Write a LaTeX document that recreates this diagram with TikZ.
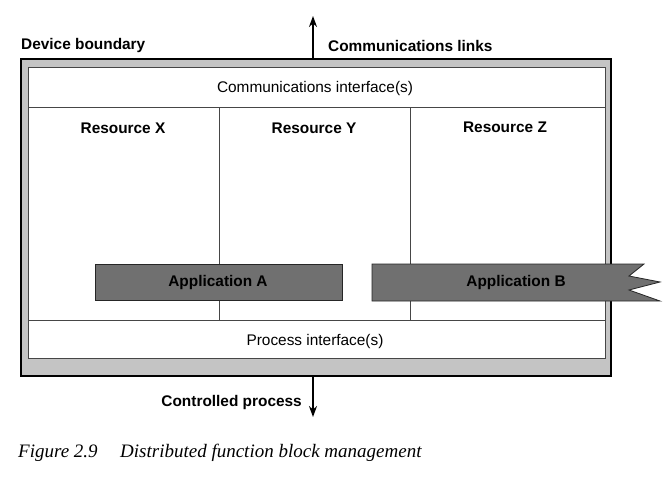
\documentclass[tikz,border=0pt]{standalone}
\usepackage{fontspec}
\setmainfont{Liberation Sans}
\newfontfamily\capfont{Liberation Serif}
\usetikzlibrary{positioning,arrows.meta}
\definecolor{bandgray}{RGB}{196,196,196}
\definecolor{appgray}{RGB}{112,112,112}
\definecolor{linegray}{RGB}{70,70,70}

\begin{document}
\begin{tikzpicture}[x=1pt,y=-1pt,
  boldtxt/.style={font=\bfseries\fontsize{15.4}{18}\selectfont, inner sep=0pt},
  plaintxt/.style={font=\fontsize{15.4}{18}\selectfont, inner sep=0pt},
  captxt/.style={font=\capfont\itshape\fontsize{19}{22}\selectfont, inner sep=0pt},
  appbox/.style={draw=black!85, line width=0.8pt, fill=appgray},
  flow/.style={line width=1.8pt, -{Stealth[length=11pt,width=8pt]}}]
  \useasboundingbox (0,0) rectangle (664,482);

  % Device boundary (grey band) and inner white area
  \draw[line width=2pt, fill=bandgray] (21,59) rectangle (611,376);
  \draw[linegray, line width=0.8pt, fill=white] (28,67) rectangle (605,358);

  % Interface rows and resource columns
  \draw[linegray, line width=0.8pt] (28,107) -- (605,107);
  \draw[linegray, line width=0.8pt] (28,320) -- (605,320);
  \draw[linegray, line width=0.8pt] (219,107) -- (219,320);
  \draw[linegray, line width=0.8pt] (410,107) -- (410,320);

  \node[plaintxt] (commif) at (315,89) {Communications interface(s)};
  \node[plaintxt] (procif) at (315,342) {Process interface(s)};
  \node[boldtxt] (resx) at (123,128) {Resource X};
  \node[boldtxt] (resy) at (314,128) {Resource Y};
  \node[boldtxt] (resz) at (505,127) {Resource Z};

  % Applications
  \draw[appbox] (95,264) rectangle (342,300);
  \node[boldtxt] (appa) at (218,283) {Application A};
  \draw[appbox] (372,264) -- (644,264) -- (629,276) -- (660,282)
    -- (629,290) -- (660,301) -- (372,301) -- cycle;
  \node[boldtxt] (appb) at (516,283) {Application B};

  % Links in and out
  \coordinate (linkfoot) at (313,59);
  \coordinate (linkhead) at (313,16);
  \coordinate (procfoot) at (313,376);
  \coordinate (prochead) at (313,417);
  \draw[flow] (linkfoot) -- (linkhead);
  \draw[flow] (procfoot) -- (prochead);

  \node[boldtxt, anchor=west] (devlabel) at (21,46) {Device boundary};
  \node[boldtxt, anchor=west] (linklabel) at (328,46) {Communications links};
  \node[boldtxt, anchor=east] (proclabel) at (302,403) {Controlled process};

  % Caption
  \node[captxt, anchor=west] (fignum) at (18,453) {Figure 2.9};
  \node[captxt, anchor=west] (figtitle) at (120,453) {Distributed function block management};
\end{tikzpicture}
\end{document}
